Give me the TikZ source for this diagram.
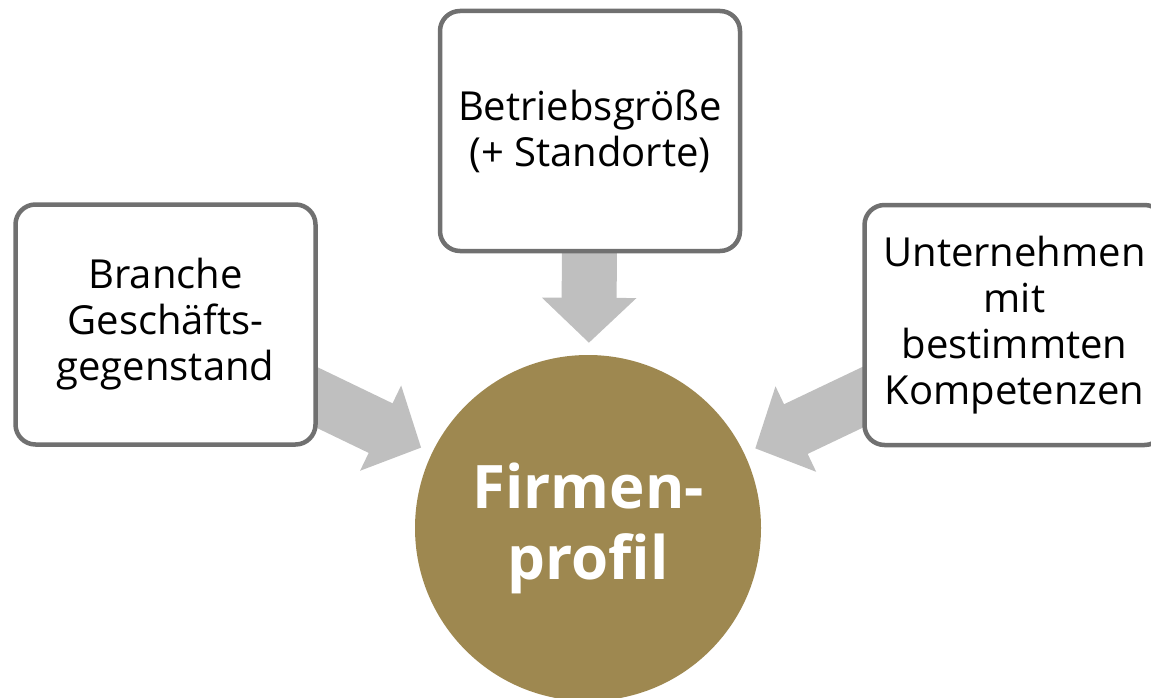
\documentclass[tikz,border=0pt]{standalone}
\usepackage{fontspec}
\setmainfont{Open Sans}
\usetikzlibrary{arrows.meta,backgrounds}
\definecolor{profilgold}{RGB}{158,136,80}
\definecolor{boxgray}{RGB}{112,112,112}
\definecolor{arrowgray}{RGB}{191,191,191}
\begin{document}
\begin{tikzpicture}[x=1pt, y=-1pt,
    topic/.style = {draw=boxgray, line width=4.5pt, rounded corners=20pt, fill=white,
      minimum width=300pt, minimum height=240pt, inner sep=0pt, align=center,
      font=\fontsize{40}{46}\selectfont},
    hub/.style = {circle, fill=profilgold, minimum size=346pt, inner sep=0pt, align=center,
      text=white, font=\bfseries\fontsize{60}{71}\selectfont},
    feed/.style = {draw=arrowgray, line width=55pt, -{Triangle[length=45pt, width=92pt]},
      shorten >=12pt}]

      \useasboundingbox (0,0) rectangle (1151,698);

      \node[hub] (profil) at (588,528) {Firmen-\\profil};

      \node[topic] (branche) at (165.5,324.5) {Branche\\Geschäfts-\\gegenstand};
      \node[topic] (groesse) at (590,131) {Betriebsgröße\\(+ Standorte)};
      \node[topic] (kompetenz) at (1014.5,325) {Unternehmen\\mit\\bestimmten\\Kompetenzen};

      \begin{scope}[on background layer]
        \draw[feed] (branche.center) -- (profil);
        \draw[feed] (groesse.center) -- (profil);
        \draw[feed] (kompetenz.center) -- (profil);
      \end{scope}

      \end{tikzpicture}
\end{document}
